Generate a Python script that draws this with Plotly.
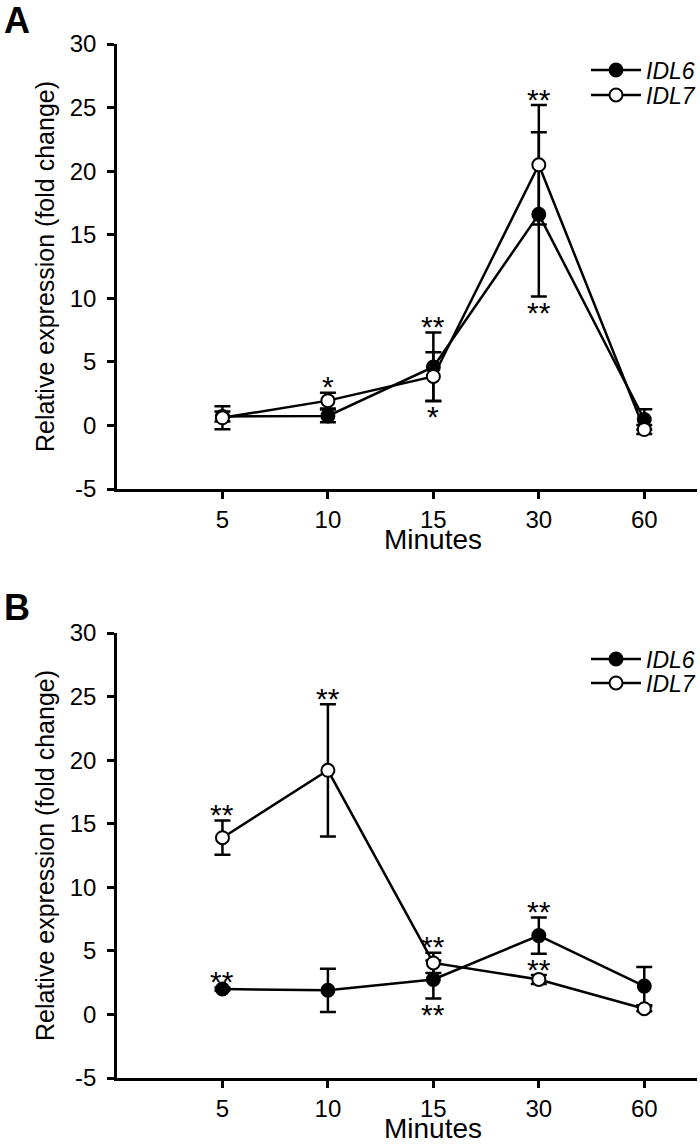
import plotly.graph_objects as go

# ---------------- data ----------------
minutes = ["5", "10", "15", "30", "60"]

a_idl6 = [0.70, 0.75, 4.60, 16.60, 0.47]
a_idl6_err = [0.40, 0.50, 2.70, 6.45, 0.80]
a_idl7 = [0.60, 1.95, 3.85, 20.50, -0.32]
a_idl7_err = [0.90, 0.62, 1.90, 4.70, 0.35]

b_idl6 = [2.00, 1.90, 2.75, 6.20, 2.23]
b_idl6_err = [0.12, 1.70, 1.50, 1.43, 1.50]
b_idl7 = [13.90, 19.20, 4.05, 2.75, 0.45]
b_idl7_err = [1.35, 5.20, 0.80, 0.35, 0.20]

y_ticks = [-5, 0, 5, 10, 15, 20, 25, 30]
y_ticktext = ["-5", "0", "5", "10", "15", "20", "25", "30"]

# significance marks: (series, minute, side, text)
a_stars = [("IDL7", "10", "above", "*"), ("IDL6", "15", "above", "**"),
           ("IDL7", "15", "below", "*"), ("IDL7", "30", "above", "**"),
           ("IDL6", "30", "below", "**")]
b_stars = [("IDL7", "5", "above", "**"), ("IDL6", "5", "above", "**"),
           ("IDL7", "10", "above", "**"), ("IDL7", "15", "above", "**"),
           ("IDL6", "15", "below", "**"), ("IDL6", "30", "above", "**"),
           ("IDL7", "30", "above", "**")]

FONT = "Liberation Sans, Arial, sans-serif"
W, H = 700, 1144
ML, MR, MT, MB = 117, 3, 44, 66
plot_h = H - MT - MB
plot_w = W - ML - MR
a_bottom_px, b_top_px = 489, 633
LW = 2.5


def py(px):
    return (H - MB - px) / plot_h


a_dom = [py(a_bottom_px), 1.0]
b_dom = [0.0, py(b_top_px)]

fig = go.Figure()

panels = [
    ("x", "y", ("legend", "legend2"), a_idl6, a_idl6_err, a_idl7, a_idl7_err, a_stars),
    ("x2", "y2", ("legend3", "legend4"), b_idl6, b_idl6_err, b_idl7, b_idl7_err, b_stars),
]

for xa, ya, legs, s6, e6, s7, e7, stars in panels:
    fig.add_trace(go.Scatter(
        x=minutes, y=s6, mode="lines+markers", name="<i>IDL6</i>",
        xaxis=xa, yaxis=ya, legend=legs[0], showlegend=True,
        line=dict(color="black", width=LW),
        marker=dict(symbol="circle", size=13, color="black",
                    line=dict(color="black", width=2)),
        error_y=dict(type="data", array=e6, color="black", thickness=LW, width=8),
    ))
    fig.add_trace(go.Scatter(
        x=minutes, y=s7, mode="lines+markers", name="<i>IDL7</i>",
        xaxis=xa, yaxis=ya, legend=legs[1], showlegend=True,
        line=dict(color="black", width=LW),
        marker=dict(symbol="circle", size=13, color="white",
                    line=dict(color="black", width=2)),
        error_y=dict(type="data", array=e7, color="black", thickness=LW, width=8),
    ))
    series = {"IDL6": (s6, e6), "IDL7": (s7, e7)}
    for name, m, side, txt in stars:
        vals, errs = series[name]
        i = minutes.index(m)
        if side == "above":
            yv = vals[i] + errs[i]
            shift = 6
        else:
            yv = vals[i] - errs[i]
            shift = -16
        fig.add_annotation(x=i, y=yv, xref=xa, yref=ya, text=txt,
                           showarrow=False, yanchor="middle", yshift=shift,
                           font=dict(family=FONT, size=30, color="black"))
    # x-axis title, centred on the middle time point
    fig.add_annotation(x=2, y=-5, xref=xa, yref=ya, text="Minutes",
                       showarrow=False, yanchor="middle", yshift=-50,
                       font=dict(family=FONT, size=28, color="black"))

axis_common = dict(showline=True, linecolor="black", linewidth=LW,
                   showgrid=False, zeroline=False, ticks="outside",
                   ticklen=7, tickwidth=LW, tickcolor="black",
                   tickfont=dict(family=FONT, size=24, color="black"))

xaxis_cfg = dict(type="category", range=[-1, 4.5], ticklabelstandoff=0, **axis_common)
yaxis_cfg = dict(range=[-5, 30], tickvals=y_ticks, ticktext=y_ticktext,
                 title=dict(text="Relative expression (fold change)",
                            font=dict(family=FONT, size=25, color="black"), standoff=8),
                 ticklabelstandoff=6, **axis_common)

legend_common = dict(font=dict(family=FONT, size=23, color="black"),
                     bgcolor="rgba(0,0,0,0)", xanchor="left", yanchor="middle",
                     itemwidth=50, x=(586 - ML) / plot_w)

fig.update_layout(
    width=W, height=H, showlegend=True,
    margin=dict(l=ML, r=MR, t=MT, b=MB, autoexpand=False),
    paper_bgcolor="white", plot_bgcolor="white",
    font=dict(family=FONT, color="black"),
    xaxis=dict(domain=[0, 1], anchor="y", **xaxis_cfg),
    yaxis=dict(domain=a_dom, anchor="x", **yaxis_cfg),
    xaxis2=dict(domain=[0, 1], anchor="y2", **xaxis_cfg),
    yaxis2=dict(domain=b_dom, anchor="x2", **yaxis_cfg),
    legend=dict(y=py(70), **legend_common),
    legend2=dict(y=py(95), **legend_common),
    legend3=dict(y=py(659), **legend_common),
    legend4=dict(y=py(683), **legend_common),
)

# panel letters
for letter, ypx in [("A", 21), ("B", 607)]:
    fig.add_annotation(text="<b>%s</b>" % letter, xref="paper", yref="paper",
                       x=(17 - ML) / plot_w, y=py(ypx),
                       xanchor="center", yanchor="middle", showarrow=False,
                       font=dict(family=FONT, size=36, color="black"))

fig.write_html("out.html", config={"displayModeBar": False},
               post_script="document.body.style.margin='0';document.body.style.overflow='hidden';")
